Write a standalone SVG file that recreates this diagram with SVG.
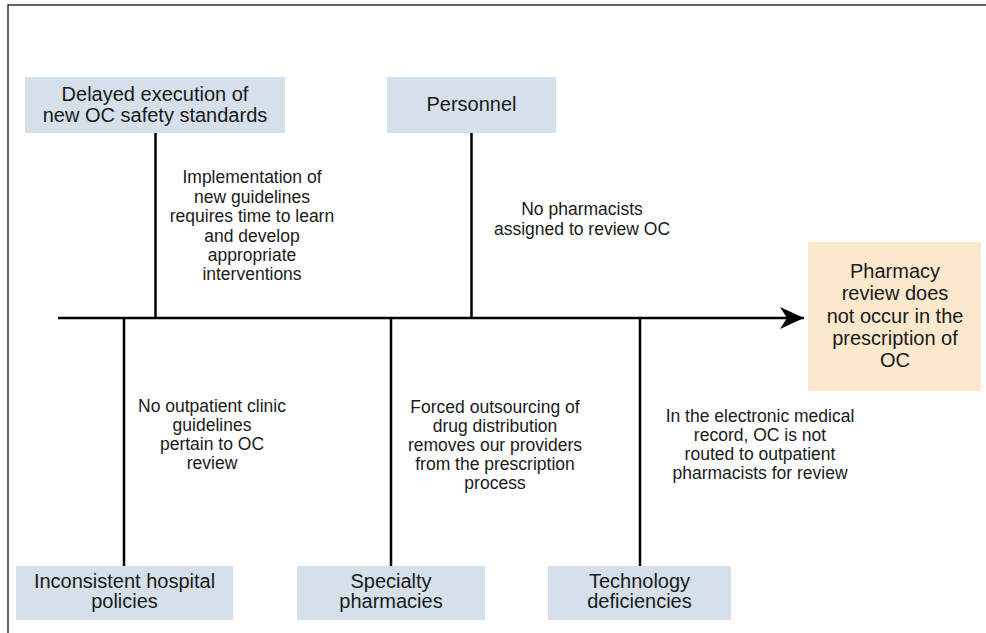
<svg xmlns="http://www.w3.org/2000/svg" width="986" height="633" viewBox="0 0 986 633">
<style>
.box{fill:#d5e0ea}
.eff{fill:#fbe8cd}
.lbl{font-family:"Liberation Sans",Arial,sans-serif;font-size:20px;fill:#1a1a1a;text-anchor:middle}
.note{font-family:"Liberation Sans",Arial,sans-serif;font-size:17.5px;fill:#1a1a1a;text-anchor:middle}
.ln{stroke:#000;stroke-width:2.5;fill:none}
</style>
<defs>
<marker id="ah" markerUnits="userSpaceOnUse" markerWidth="26" markerHeight="24" refX="24" refY="11" orient="auto">
<path d="M0,0 L24,11 L0,22 L7,11 Z" fill="#000"/>
</marker>
</defs>
<rect width="986" height="633" fill="#fff"/>
<path d="M8,633 V5 H986" stroke="#333" stroke-width="1.5" fill="none"/>
<g id="connectors">
<line class="ln" x1="58" y1="318" x2="804" y2="318" marker-end="url(#ah)"/>
<line class="ln" x1="155.5" y1="133" x2="155.5" y2="318"/>
<line class="ln" x1="471.5" y1="133" x2="471.5" y2="318"/>
<line class="ln" x1="124" y1="318" x2="124" y2="566"/>
<line class="ln" x1="391" y1="318" x2="391" y2="566"/>
<line class="ln" x1="640" y1="318" x2="640" y2="566"/>
</g>
<g id="delayed">
<rect class="box" x="25" y="77" width="260" height="56"/>
<text class="lbl" x="155" y="101">Delayed execution of</text>
<text class="lbl" x="155" y="122">new OC safety standards</text>
</g>
<g id="personnel">
<rect class="box" x="387" y="77" width="169" height="56"/>
<text class="lbl" x="471.5" y="111">Personnel</text>
</g>
<g id="note-implementation">
<text class="note" x="252" y="183">Implementation of</text>
<text class="note" x="252" y="203">new guidelines</text>
<text class="note" x="252" y="222">requires time to learn</text>
<text class="note" x="252" y="242">and develop</text>
<text class="note" x="252" y="261">appropriate</text>
<text class="note" x="252" y="280">interventions</text>
</g>
<g id="note-pharmacists">
<text class="note" x="582" y="215">No pharmacists</text>
<text class="note" x="582" y="235">assigned to review OC</text>
</g>
<g id="effect">
<rect class="eff" x="808" y="242" width="173" height="149"/>
<text class="lbl" x="895" y="278">Pharmacy</text>
<text class="lbl" x="895" y="300">review does</text>
<text class="lbl" x="895" y="323">not occur in the</text>
<text class="lbl" x="895" y="345">prescription of</text>
<text class="lbl" x="895" y="367">OC</text>
</g>
<g id="note-outpatient">
<text class="note" x="212" y="412">No outpatient clinic</text>
<text class="note" x="212" y="431">guidelines</text>
<text class="note" x="212" y="450">pertain to OC</text>
<text class="note" x="212" y="469">review</text>
</g>
<g id="note-outsourcing">
<text class="note" x="495" y="413">Forced outsourcing of</text>
<text class="note" x="495" y="432">drug distribution</text>
<text class="note" x="495" y="451">removes our providers</text>
<text class="note" x="495" y="470">from the prescription</text>
<text class="note" x="495" y="489">process</text>
</g>
<g id="note-emr">
<text class="note" x="760" y="422">In the electronic medical</text>
<text class="note" x="760" y="441">record, OC is not</text>
<text class="note" x="760" y="460">routed to outpatient</text>
<text class="note" x="760" y="479">pharmacists for review</text>
</g>
<g id="inconsistent">
<rect class="box" x="16" y="566" width="217" height="54"/>
<text class="lbl" x="124.5" y="588">Inconsistent hospital</text>
<text class="lbl" x="124.5" y="608">policies</text>
</g>
<g id="specialty">
<rect class="box" x="297" y="566" width="188" height="54"/>
<text class="lbl" x="391" y="588">Specialty</text>
<text class="lbl" x="391" y="608">pharmacies</text>
</g>
<g id="technology">
<rect class="box" x="548" y="566" width="183" height="54"/>
<text class="lbl" x="639.5" y="588">Technology</text>
<text class="lbl" x="639.5" y="608">deficiencies</text>
</g>
</svg>
